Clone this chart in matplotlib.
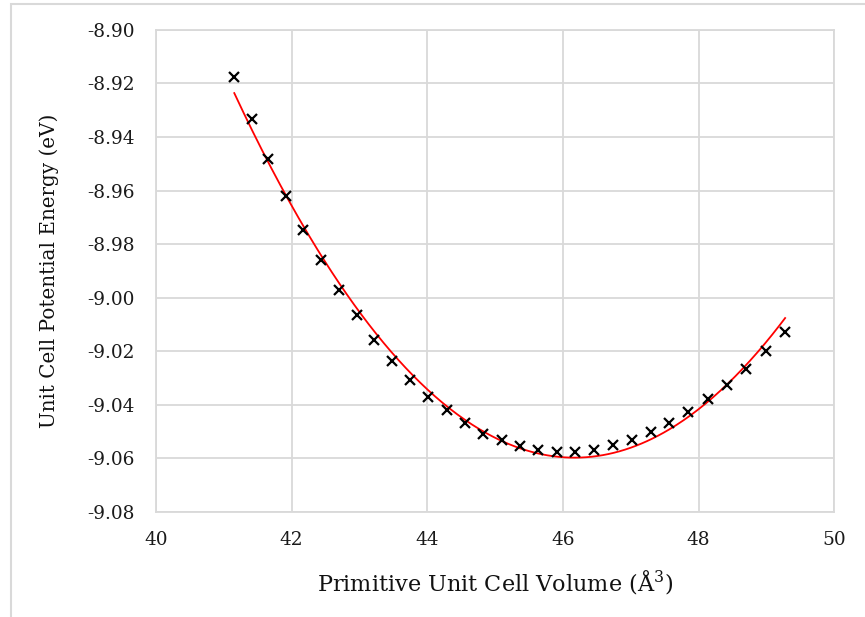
import numpy as np
import matplotlib
matplotlib.use("Agg")
import matplotlib.pyplot as plt
from matplotlib.patches import Rectangle

volume = [41.154, 41.410, 41.655, 41.912, 42.171, 42.432, 42.704, 42.967, 43.213,
          43.478, 43.744, 44.013, 44.284, 44.554, 44.824, 45.095, 45.372, 45.634,
          45.910, 46.183, 46.455, 46.735, 47.011, 47.291, 47.565, 47.845, 48.131,
          48.411, 48.696, 48.986, 49.275]
energy = [-8.9175, -8.9334, -8.9483, -8.9620, -8.9748, -8.9860, -8.9971, -9.0066,
          -9.0159, -9.0237, -9.0306, -9.0369, -9.0421, -9.0467, -9.0508, -9.0533,
          -9.0552, -9.0570, -9.0577, -9.0577, -9.0568, -9.0550, -9.0532, -9.0502,
          -9.0466, -9.0425, -9.0379, -9.0325, -9.0266, -9.0200, -9.0128]
x_ticks = [40, 42, 44, 46, 48, 50]
y_ticks = [-8.90, -8.92, -8.94, -8.96, -8.98, -9.00, -9.02, -9.04, -9.06, -9.08]

plt.rcParams['font.family'] = ['DejaVu Serif']
plt.rcParams['mathtext.fontset'] = 'dejavuserif'

fig = plt.figure(figsize=(8.65, 6.17), dpi=100)
ax = fig.add_axes([156/865, 1-512/617, (834.3-156)/865, (512-29.8)/617])

# Quadratic trendline fitted to the data
coef = np.polyfit(volume, energy, 2)
xf = np.linspace(volume[0], volume[-1], 300)
ax.plot(xf, np.polyval(coef, xf), color='#ff0000', lw=1.3, zorder=2)

ax.plot(volume, energy, linestyle='none', marker='x', color='black',
        markersize=7.5, markeredgewidth=1.6, zorder=3)

ax.set_xlim(40, 50)
ax.set_ylim(-9.08, -8.90)
ax.set_xticks(x_ticks)
ax.set_yticks(y_ticks)
ax.set_xticklabels([str(t) for t in x_ticks])
ax.set_yticklabels([f"{t:.2f}" for t in y_ticks])
ax.tick_params(length=0, labelsize=13.3, colors='#1a1a1a')
ax.tick_params(axis='y', pad=15.5)
ax.tick_params(axis='x', pad=14)
ax.grid(True, color='#d9d9d9', lw=1.3)
ax.set_axisbelow(True)
for s in ax.spines.values():
    s.set_color('#d9d9d9')
    s.set_linewidth(1.3)

ax.set_xlabel('Primitive Unit Cell Volume (Å$^3$)', fontsize=16.1, labelpad=13, color='#111111')
ax.set_ylabel('Unit Cell Potential Energy (eV)', fontsize=14.3, labelpad=20, color='#111111')

fig.patches.append(Rectangle((11/865, -0.1), 1.2, (1-4/617)+0.1, transform=fig.transFigure,
                             fill=False, edgecolor='#d9d9d9', lw=1.5))

fig.savefig('out.png', dpi=100)
